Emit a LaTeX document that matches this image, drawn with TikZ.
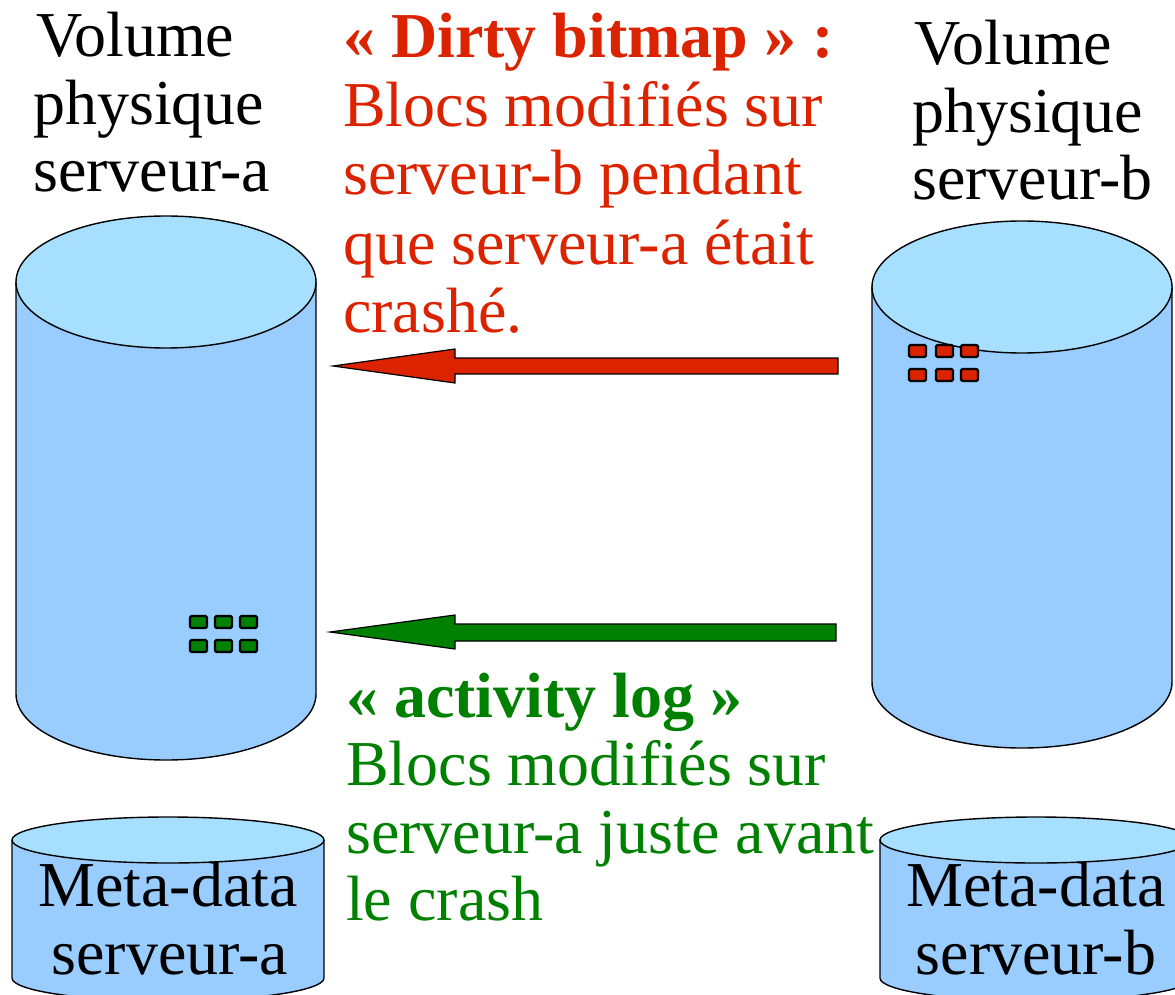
\documentclass[tikz,border=0pt]{standalone}
\usepackage{fontspec}
\setmainfont{Liberation Serif}
\definecolor{cyltop}{HTML}{A6DFFF}
\definecolor{cylbody}{HTML}{99CCFF}
\definecolor{dred}{HTML}{DC2300}
\definecolor{dgreen}{HTML}{008000}
\tikzset{
  cyl/.style={draw=black, line width=1.4pt, fill=cylbody},
  cyltopst/.style={draw=black, line width=1.4pt, fill=cyltop},
  lbl/.style={anchor=base west, inner sep=0pt, font=\fontsize{64}{68}\selectfont},
  blbl/.style={anchor=base west, inner sep=0pt, font=\fontsize{64}{68}\selectfont\bfseries},
  clbl/.style={anchor=base, inner sep=0pt, font=\fontsize{64}{68}\selectfont},
  redblk/.style={draw=black, line width=2.2pt, fill=dred, rounded corners=1.5pt},
  grnblk/.style={draw=black, line width=2.2pt, fill=dgreen, rounded corners=1.5pt},
  bigarrow/.style={draw=black, line width=1.2pt},
}
\newcommand{\mycyl}[5]{% cx, top center y, bottom center y, rx, ry
  \path[cyl] (#1-#4,#2) -- (#1-#4,#3) arc[start angle=180, end angle=0, x radius=#4, y radius=#5] -- (#1+#4,#2) -- cycle;
  \path[cyltopst] (#1,#2) ellipse[x radius=#4, y radius=#5];
}
\begin{document}
\begin{tikzpicture}[x=1pt,y=-1pt]
\useasboundingbox (0,0) rectangle (1175,995);
% cylinders
\mycyl{166}{282}{694}{150}{66}
\mycyl{1022}{287}{682}{150}{66}
\mycyl{168}{840}{978}{156}{23}
\mycyl{1036}{840}{978}{156}{23}
% titles
\node[lbl] (ta1) at (36,57) {Volume};
\node[lbl] (ta2) at (33,125) {physique};
\node[lbl] (ta3) at (33,192) {serveur-a};
\node[lbl] (tb1) at (914,65) {Volume};
\node[lbl] (tb2) at (912,133) {physique};
\node[lbl] (tb3) at (912,200) {serveur-b};
% meta-data
\node[clbl] (ma1) at (168,906) {Meta-data};
\node[clbl] (ma2) at (170,974) {serveur-a};
\node[clbl] (mb1) at (1036,906) {Meta-data};
\node[clbl] (mb2) at (1036,974) {serveur-b};
% red text
\begin{scope}[every node/.append style={text=dred}]
\node[blbl] (r1) at (343,58) {« Dirty bitmap » :};
\node[lbl] (r2) at (343,127) {Blocs modifiés sur};
\node[lbl] (r3) at (343,195) {serveur-b pendant};
\node[lbl] (r4) at (343,264) {que serveur-a était};
\node[lbl] (r5) at (343,332) {crashé.};
\end{scope}
% green text
\begin{scope}[every node/.append style={text=dgreen}]
\node[blbl] (g1) at (346,717) {« activity log »};
\node[lbl] (g2) at (346,785) {Blocs modifiés sur};
\node[lbl] (g3) at (346,853) {serveur-a juste avant};
\node[lbl] (g4) at (346,920) {le crash};
\end{scope}
% arrows
\path[bigarrow, fill=dred] (333,366) -- (455,349) -- (455,358) -- (838,358) -- (838,374) -- (455,374) -- (455,383) -- cycle;
\path[bigarrow, fill=dgreen] (330,632) -- (455,615) -- (455,624) -- (836,624) -- (836,641) -- (455,641) -- (455,649) -- cycle;
% blocks
\foreach \x in {909,936,961}{
  \draw[redblk] (\x,345) rectangle ++(17,12);
  \draw[redblk] (\x,369) rectangle ++(17,12);
}
\foreach \x in {190,215,240}{
  \draw[grnblk] (\x,616) rectangle ++(17,12);
  \draw[grnblk] (\x,640) rectangle ++(17,12);
}
\end{tikzpicture}
\end{document}
